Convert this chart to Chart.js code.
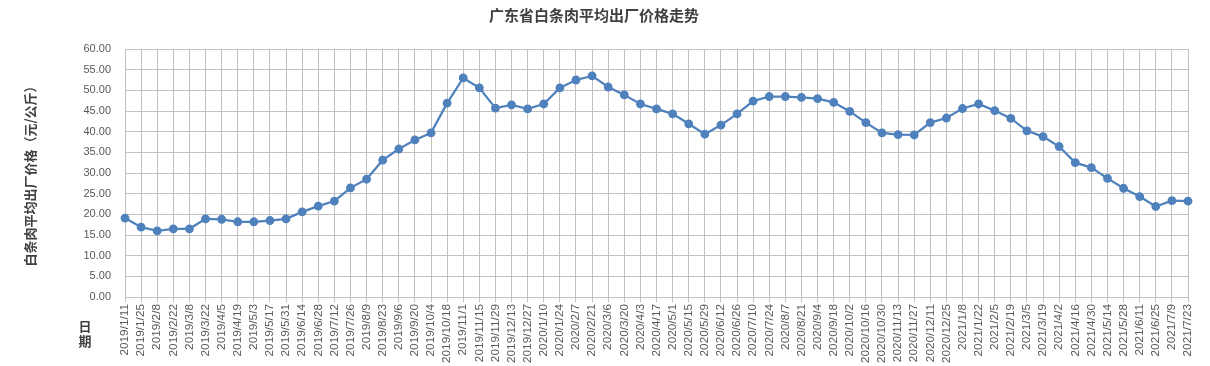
<!DOCTYPE html>
<html>
<head>
<meta charset="utf-8">
<script src="https://cdn.jsdelivr.net/npm/chart.js@4"></script>
<style>
  body { margin: 0; background: #fff; }
</style>
</head>
<body>
<canvas id="chart" width="1210" height="366"></canvas>
<script>
const dates = [
  '2019/1/11', '2019/1/25', '2019/2/8', '2019/2/22', '2019/3/8', '2019/3/22', '2019/4/5', '2019/4/19',
  '2019/5/3', '2019/5/17', '2019/5/31', '2019/6/14', '2019/6/28', '2019/7/12', '2019/7/26', '2019/8/9',
  '2019/8/23', '2019/9/6', '2019/9/20', '2019/10/4', '2019/10/18', '2019/11/1', '2019/11/15', '2019/11/29',
  '2019/12/13', '2019/12/27', '2020/1/10', '2020/1/24', '2020/2/7', '2020/2/21', '2020/3/6', '2020/3/20',
  '2020/4/3', '2020/4/17', '2020/5/1', '2020/5/15', '2020/5/29', '2020/6/12', '2020/6/26', '2020/7/10',
  '2020/7/24', '2020/8/7', '2020/8/21', '2020/9/4', '2020/9/18', '2020/10/2', '2020/10/16', '2020/10/30',
  '2020/11/13', '2020/11/27', '2020/12/11', '2020/12/25', '2021/1/8', '2021/1/22', '2021/2/5', '2021/2/19',
  '2021/3/5', '2021/3/19', '2021/4/2', '2021/4/16', '2021/4/30', '2021/5/14', '2021/5/28', '2021/6/11',
  '2021/6/25', '2021/7/9', '2021/7/23'
];

// 元/公斤
const prices = [
  19.1, 16.9, 16.0, 16.5, 16.5, 18.9, 18.8, 18.2,
  18.2, 18.5, 18.9, 20.6, 22.0, 23.2, 26.4, 28.5,
  33.1, 35.8, 38.0, 39.7, 46.9, 53.0, 50.6, 45.7,
  46.5, 45.5, 46.7, 50.6, 52.5, 53.5, 50.8, 48.9,
  46.7, 45.5, 44.3, 41.9, 39.4, 41.6, 44.3, 47.4,
  48.5, 48.5, 48.3, 48.0, 47.1, 44.9, 42.2, 39.7,
  39.3, 39.2, 42.2, 43.3, 45.6, 46.7, 45.1, 43.2,
  40.2, 38.8, 36.4, 32.5, 31.3, 28.7, 26.3, 24.3,
  21.9, 23.3, 23.2
];

const yTicks = [0, 5, 10, 15, 20, 25, 30, 35, 40, 45, 50, 55, 60];

const fontFamily = '"Liberation Sans", Arial, "Noto Sans CJK SC", sans-serif';
const cjkFont = '"Noto Sans CJK SC", "Liberation Sans", sans-serif';
const gridColor = '#c0c0c0';
const textColor = '#595959';

// "日期" stacked at the bottom left
const xTitlePlugin = {
  id: 'xTitle',
  afterDraw(chart) {
    const ctx = chart.ctx;
    ctx.save();
    ctx.font = 'bold 13px ' + cjkFont;
    ctx.fillStyle = '#404040';
    ctx.textAlign = 'center';
    ctx.textBaseline = 'middle';
    ctx.fillText('日', 85, 326);
    ctx.fillText('期', 85, 341);
    ctx.restore();
  }
};

new Chart(document.getElementById('chart'), {
  type: 'line',
  data: {
    labels: dates,
    datasets: [{
      label: '白条肉平均出厂价格',
      data: prices,
      borderColor: '#4f81bd',
      backgroundColor: '#4f81bd',
      borderWidth: 2.25,
      pointRadius: 3.3,
      pointHoverRadius: 4,
      tension: 0,
      fill: false
    }]
  },
  options: {
    responsive: false,
    animation: false,
    layout: { padding: { left: 0, right: 22, top: 0, bottom: 0 } },
    plugins: {
      legend: { display: false },
      tooltip: { enabled: false },
      title: {
        display: true,
        text: '广东省白条肉平均出厂价格走势',
        color: '#404040',
        font: { family: cjkFont, size: 15, weight: 'bold' },
        padding: { top: 6, bottom: 25 }
      }
    },
    scales: {
      x: {
        offset: false,
        afterFit(scale) { scale.height = 69; },
        grid: { color: gridColor, tickLength: 5, tickColor: gridColor },
        border: { color: gridColor },
        ticks: {
          autoSkip: false,
          maxRotation: 90,
          minRotation: 90,
          padding: 2,
          color: textColor,
          font: { family: fontFamily, size: 11.8 }
        }
      },
      y: {
        min: 0,
        max: 60,
        afterBuildTicks(scale) {
          scale.ticks = yTicks.map(v => ({ value: v }));
        },
        afterFit(scale) { scale.width = 125; },
        grid: { color: gridColor, drawTicks: false },
        border: { color: gridColor },
        ticks: {
          padding: 14,
          color: textColor,
          font: { family: fontFamily, size: 11 },
          callback: v => Number(v).toFixed(2)
        },
        title: {
          display: true,
          text: '白条肉平均出厂价格（元/公斤）',
          color: '#404040',
          font: { family: cjkFont, size: 13, weight: 'bold' },
          padding: { top: 22, bottom: 0 }
        }
      }
    }
  },
  plugins: [xTitlePlugin]
});
</script>
</body>
</html>
